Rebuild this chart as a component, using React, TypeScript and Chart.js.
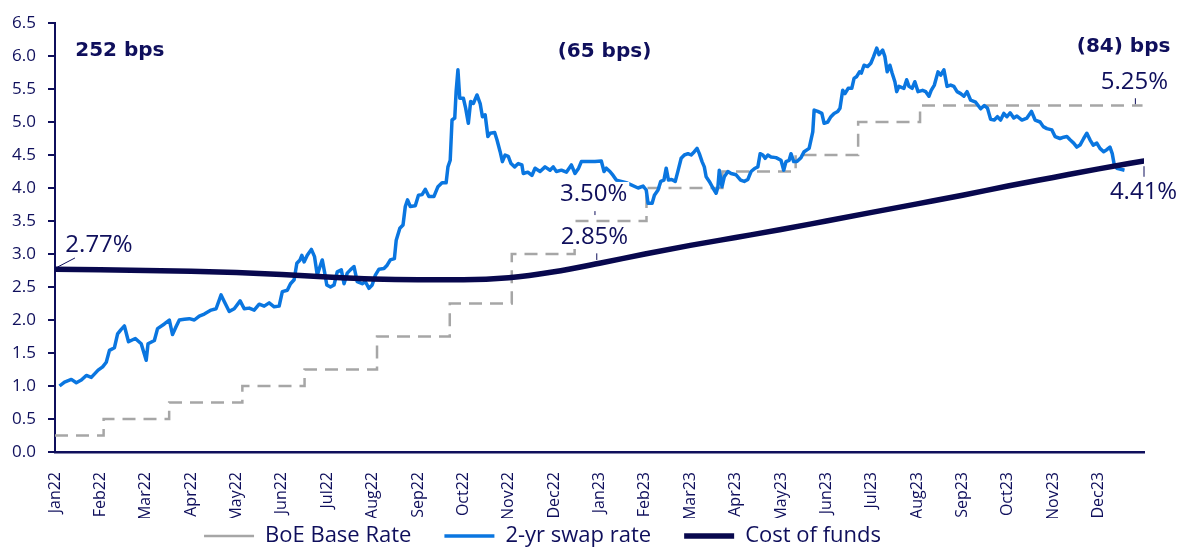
import React, { useEffect, useRef } from "react";
import { Chart, registerables } from "chart.js";

Chart.register(...registerables);

// ---------- data ----------
const monthLabels = [
  "Jan22", "Feb22", "Mar22", "Apr22", "May22", "Jun22", "Jul22", "Aug22", "Sep22", "Oct22", "Nov22", "Dec22",
  "Jan23", "Feb23", "Mar23", "Apr23", "May23", "Jun23", "Jul23", "Aug23", "Sep23", "Oct23", "Nov23", "Dec23",
];

// BoE Base Rate change dates and new rates
const boeDates = [
  "2022-01-01", "2022-02-03", "2022-03-17", "2022-05-05", "2022-06-16", "2022-08-04", "2022-09-22",
  "2022-11-03", "2022-12-15", "2023-02-02", "2023-03-23", "2023-05-11", "2023-06-22", "2023-08-03", "2023-12-31",
];
const boeRates = [0.25, 0.5, 0.75, 1.0, 1.25, 1.75, 2.25, 3.0, 3.5, 4.0, 4.25, 4.5, 5.0, 5.25, 5.25];

// 2-yr swap rate: [months since Jan 2022, rate %]
const swapPoints: [number, number][] = [
  [0.10, 1.00], [0.21, 1.06], [0.36, 1.10], [0.47, 1.05], [0.58, 1.09], [0.69, 1.16], [0.80, 1.13], [0.95, 1.24],
  [1.05, 1.29], [1.13, 1.36], [1.20, 1.54], [1.31, 1.58], [1.38, 1.79], [1.45, 1.85], [1.53, 1.91], [1.62, 1.67],
  [1.77, 1.72], [1.90, 1.64], [2.01, 1.39], [2.05, 1.64], [2.19, 1.69], [2.26, 1.87], [2.41, 1.94], [2.52, 2.00],
  [2.59, 1.78], [2.67, 1.90], [2.74, 2.00], [2.85, 2.01], [2.96, 2.02], [3.07, 2.00], [3.18, 2.06], [3.29, 2.09],
  [3.44, 2.15], [3.55, 2.17], [3.66, 2.38], [3.73, 2.28], [3.84, 2.13], [3.95, 2.17], [4.08, 2.29], [4.17, 2.17],
  [4.28, 2.18], [4.39, 2.15], [4.50, 2.24], [4.61, 2.21], [4.72, 2.26], [4.83, 2.20], [4.94, 2.21], [5.01, 2.43],
  [5.12, 2.45], [5.19, 2.55], [5.27, 2.61], [5.33, 2.86], [5.40, 2.91], [5.44, 2.98], [5.49, 2.88], [5.56, 2.98],
  [5.65, 3.07], [5.72, 2.96], [5.78, 2.68], [5.84, 2.81], [5.89, 2.91], [5.94, 2.73], [5.99, 2.53], [6.07, 2.50],
  [6.15, 2.53], [6.22, 2.73], [6.31, 2.76], [6.37, 2.55], [6.44, 2.71], [6.51, 2.76], [6.59, 2.81], [6.66, 2.58],
  [6.77, 2.55], [6.84, 2.58], [6.92, 2.48], [6.99, 2.53], [7.06, 2.68], [7.14, 2.77], [7.25, 2.78], [7.32, 2.83],
  [7.39, 2.91], [7.48, 2.93], [7.52, 3.21], [7.60, 3.39], [7.67, 3.44], [7.72, 3.72], [7.77, 3.82], [7.83, 3.72],
  [7.94, 3.73], [8.01, 3.89], [8.09, 3.90], [8.16, 3.98], [8.24, 3.87], [8.35, 3.87], [8.44, 4.02], [8.53, 4.08],
  [8.62, 4.08], [8.66, 4.32], [8.71, 4.42], [8.75, 5.03], [8.81, 5.06], [8.84, 5.46], [8.88, 5.79], [8.92, 5.36],
  [9.00, 5.36], [9.05, 5.21], [9.11, 4.98], [9.16, 5.31], [9.22, 5.28], [9.30, 5.41], [9.37, 5.28], [9.42, 5.08],
  [9.48, 5.11], [9.54, 4.78], [9.59, 4.83], [9.69, 4.84], [9.74, 4.73], [9.81, 4.55], [9.86, 4.40], [9.92, 4.50],
  [9.99, 4.48], [10.05, 4.37], [10.13, 4.32], [10.21, 4.37], [10.29, 4.35], [10.32, 4.22], [10.42, 4.24], [10.51, 4.19],
  [10.58, 4.30], [10.69, 4.25], [10.80, 4.32], [10.91, 4.27], [10.98, 4.32], [11.05, 4.25], [11.16, 4.27], [11.27, 4.24],
  [11.38, 4.35], [11.46, 4.22], [11.54, 4.30], [11.60, 4.40], [11.75, 4.40], [11.90, 4.40], [12.04, 4.41], [12.10, 4.25],
  [12.15, 4.30], [12.23, 4.25], [12.30, 4.19], [12.37, 4.12], [12.59, 4.08], [12.85, 4.00], [12.96, 4.03], [13.03, 3.97],
  [13.07, 3.77], [13.16, 3.77], [13.21, 3.89], [13.29, 3.97], [13.35, 4.10], [13.42, 4.12], [13.47, 4.30], [13.52, 4.12],
  [13.59, 4.13], [13.67, 4.10], [13.73, 4.26], [13.80, 4.45], [13.87, 4.50], [13.95, 4.52], [14.02, 4.50], [14.09, 4.55],
  [14.15, 4.60], [14.20, 4.52], [14.26, 4.40], [14.31, 4.32], [14.35, 4.17], [14.42, 4.10], [14.50, 4.00], [14.57, 3.92],
  [14.61, 4.02], [14.64, 4.27], [14.70, 4.02], [14.75, 4.17], [14.83, 4.25], [14.90, 4.22], [15.01, 4.20], [15.11, 4.12],
  [15.19, 4.10], [15.27, 4.13], [15.34, 4.25], [15.43, 4.30], [15.49, 4.32], [15.54, 4.52], [15.60, 4.50], [15.65, 4.45],
  [15.71, 4.50], [15.78, 4.47], [15.89, 4.46], [16.00, 4.42], [16.06, 4.27], [16.11, 4.40], [16.18, 4.42], [16.22, 4.52],
  [16.28, 4.40], [16.35, 4.40], [16.44, 4.46], [16.51, 4.55], [16.62, 4.60], [16.70, 4.85], [16.73, 5.18], [16.81, 5.16],
  [16.90, 5.13], [16.95, 4.98], [17.03, 5.00], [17.10, 5.08], [17.17, 5.13], [17.25, 5.16], [17.30, 5.21], [17.36, 5.48],
  [17.41, 5.43], [17.48, 5.51], [17.56, 5.51], [17.61, 5.66], [17.67, 5.69], [17.73, 5.76], [17.77, 5.74], [17.83, 5.86],
  [17.91, 5.84], [17.98, 5.89], [18.04, 5.99], [18.11, 6.12], [18.16, 6.02], [18.24, 6.09], [18.29, 5.99], [18.34, 5.76],
  [18.40, 5.86], [18.45, 5.74], [18.51, 5.61], [18.55, 5.46], [18.60, 5.54], [18.71, 5.51], [18.77, 5.64], [18.82, 5.54],
  [18.89, 5.51], [18.95, 5.61], [19.02, 5.46], [19.12, 5.48], [19.19, 5.46], [19.26, 5.39], [19.31, 5.48], [19.38, 5.56],
  [19.46, 5.76], [19.52, 5.71], [19.59, 5.79], [19.66, 5.54], [19.74, 5.56], [19.81, 5.54], [19.88, 5.46], [19.96, 5.43],
  [20.03, 5.39], [20.10, 5.46], [20.18, 5.33], [20.29, 5.30], [20.40, 5.20], [20.48, 5.25], [20.55, 5.21], [20.62, 5.04],
  [20.70, 5.03], [20.77, 5.08], [20.84, 5.03], [20.91, 5.13], [20.98, 5.08], [21.05, 5.14], [21.13, 5.06], [21.20, 5.09],
  [21.31, 5.03], [21.42, 5.06], [21.52, 5.16], [21.60, 5.03], [21.71, 5.00], [21.78, 4.93], [21.86, 4.90], [21.97, 4.88],
  [22.04, 4.78], [22.15, 4.75], [22.23, 4.77], [22.30, 4.78], [22.37, 4.73], [22.45, 4.68], [22.52, 4.62], [22.59, 4.65],
  [22.67, 4.75], [22.74, 4.83], [22.81, 4.73], [22.88, 4.65], [22.96, 4.68], [23.03, 4.60], [23.11, 4.55], [23.18, 4.58],
  [23.25, 4.62], [23.30, 4.52], [23.34, 4.37], [23.40, 4.30], [23.51, 4.28], [23.57, 4.27],
];

// Cost of funds, month start values
const costMonths = [0, 1, 2, 3, 4, 5, 6, 7, 8, 9, 10, 11, 12, 13, 14, 15, 16, 17, 18, 19, 20, 21, 22, 23, 24];
const costRates = [
  2.77, 2.76, 2.75, 2.74, 2.72, 2.69, 2.65, 2.62, 2.61, 2.61, 2.64, 2.73, 2.86,
  3.0, 3.13, 3.25, 3.37, 3.5, 3.63, 3.76, 3.89, 4.03, 4.16, 4.29, 4.41,
];

// ---------- styling ----------
const FONT = "'Open Sans', sans-serif";
const BOLD_FONT = "'DejaVu Sans', sans-serif";
const NAVY = "#0f0f5c";
const LINE_NAVY = "#08084e";
const BLUE = "#0a76e0";
const GREY = "#a6a6a6";

const toMonths = (s: string) => {
  const [y, m, d] = s.split("-").map(Number);
  const dim = new Date(y, m, 0).getDate();
  return (y - 2022) * 12 + (m - 1) + (d - 1) / dim;
};

type Label = { text: string; month: number; value: number; bold?: boolean };
const labels: Label[] = [
  { text: "252 bps", month: 1.43, value: 6.08, bold: true },
  { text: "(65 bps)", month: 12.11, value: 6.06, bold: true },
  { text: "(84) bps", month: 23.55, value: 6.14, bold: true },
  { text: "2.77%", month: 0.97, value: 3.14 },
  { text: "3.50%", month: 11.87, value: 3.91 },
  { text: "2.85%", month: 11.89, value: 3.26 },
  { text: "5.25%", month: 23.79, value: 5.61 },
  { text: "4.41%", month: 23.99, value: 3.94 },
];
const leaders: [number, number, number, number][] = [
  [0.05, 2.8, 0.44, 2.94],
  [11.9, 3.59, 11.9, 3.65],
  [11.94, 2.91, 11.94, 3.01],
  [23.81, 5.27, 23.81, 5.36],
  [24.0, 4.17, 24.0, 4.33],
];

const annotationPlugin = {
  id: "annotations",
  afterLayout(chart: any) {
    const lg = chart.legend;
    if (!lg) return;
    const dx = 542.5 - (lg.left + lg.right) / 2;
    lg.left += dx;
    lg.right += dx;
    const pad = lg.options.labels.padding;
    const fs = lg.options.labels.font.size;
    const top = 536 - pad - fs / 2;
    lg.top = top;
    lg.bottom = chart.height;
    lg.height = chart.height - top;
  },
  afterDatasetsDraw(chart: any) {
    const { ctx } = chart;
    const xs = chart.scales.x;
    const ys = chart.scales.y;
    ctx.save();
    ctx.textAlign = "center";
    ctx.textBaseline = "middle";
    for (const a of labels) {
      const px = xs.getPixelForValue(a.month);
      const py = ys.getPixelForValue(a.value);
      ctx.font = a.bold ? `bold 20px ${BOLD_FONT}` : `24px ${FONT}`;
      if (!a.bold) {
        const w = ctx.measureText(a.text).width;
        ctx.fillStyle = "#ffffff";
        ctx.fillRect(px - w / 2 - 2, py - 12, w + 4, 24);
      }
      ctx.fillStyle = NAVY;
      ctx.fillText(a.text, px, py);
    }
    ctx.strokeStyle = NAVY;
    ctx.lineWidth = 1;
    for (const [m1, v1, m2, v2] of leaders) {
      ctx.beginPath();
      ctx.moveTo(xs.getPixelForValue(m1), ys.getPixelForValue(v1));
      ctx.lineTo(xs.getPixelForValue(m2), ys.getPixelForValue(v2));
      ctx.stroke();
    }
    ctx.restore();
  },
};

export default function App() {
  const ref = useRef<HTMLCanvasElement | null>(null);

  useEffect(() => {
    document.body.style.margin = "0";
    if (!ref.current) return;
    const chart = new Chart(ref.current, {
      type: "line",
      data: {
        datasets: [
          {
            label: "BoE Base Rate",
            data: boeDates.map((d, i) => ({ x: toMonths(d), y: boeRates[i] })),
            borderColor: GREY,
            backgroundColor: GREY,
            borderWidth: 2.5,
            borderDash: [13, 8],
            stepped: "before",
            pointRadius: 0,
            order: 3,
          },
          {
            label: "2-yr swap rate",
            data: swapPoints.map(([m, v]) => ({ x: m, y: v })),
            borderColor: BLUE,
            backgroundColor: BLUE,
            borderWidth: 3.5,
            borderJoinStyle: "round",
            pointRadius: 0,
            tension: 0,
            order: 2,
          },
          {
            label: "Cost of funds",
            data: costMonths.map((m, i) => ({ x: m, y: costRates[i] })),
            borderColor: LINE_NAVY,
            backgroundColor: LINE_NAVY,
            borderWidth: 5.5,
            borderCapStyle: "round",
            cubicInterpolationMode: "monotone",
            pointRadius: 0,
            order: 1,
          },
        ],
      },
      options: {
        responsive: false,
        animation: false,
        layout: { padding: { top: 23, right: 44, left: 0, bottom: 0 } },
        plugins: {
          tooltip: { enabled: false },
          legend: {
            position: "bottom",
            maxHeight: 30,
            labels: {
              usePointStyle: true,
              pointStyle: "line",
              pointStyleWidth: 50,
              padding: 33,
              color: NAVY,
              font: { family: FONT, size: 22 },
              sort: (a: any, b: any) => a.datasetIndex - b.datasetIndex,
            },
          },
        },
        scales: {
          x: {
            type: "linear",
            min: 0,
            max: 24,
            afterFit: (s: any) => {
              s.height = 66;
            },
            afterBuildTicks: (s: any) => {
              s.ticks = monthLabels.map((_, i) => ({ value: i }));
            },
            grid: { display: false },
            border: { display: true, color: NAVY, width: 2.5 },
            ticks: {
              autoSkip: false,
              maxRotation: 90,
              minRotation: 90,
              padding: 12,
              color: NAVY,
              font: { family: FONT, size: 16 },
              callback: (v: any) => monthLabels[v] ?? "",
            },
          },
          y: {
            min: 0,
            max: 6.5,
            afterFit: (s: any) => {
              s.width = 55;
            },
            grid: {
              display: true,
              drawOnChartArea: false,
              drawTicks: true,
              tickLength: 7,
              color: NAVY,
              lineWidth: 2,
            },
            border: { display: true, color: NAVY, width: 2 },
            ticks: {
              stepSize: 0.5,
              padding: 12,
              color: NAVY,
              font: { family: FONT, size: 17 },
              callback: (v: any) => Number(v).toFixed(1),
            },
          },
        },
      },
      plugins: [annotationPlugin],
    } as any);
    return () => chart.destroy();
  }, []);

  return (
    <div style={{ width: 1188, height: 548 }}>
      <canvas ref={ref} width={1188} height={548} />
    </div>
  );
}
